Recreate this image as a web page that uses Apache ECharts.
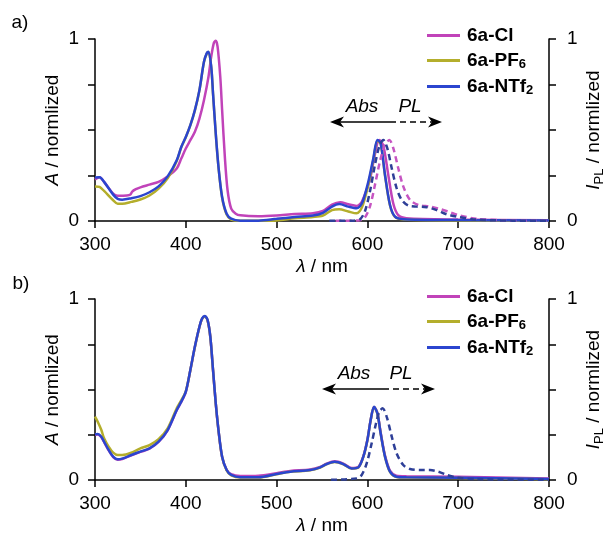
<!DOCTYPE html>
<html>
<head>
<meta charset="utf-8">
<script src="https://cdn.jsdelivr.net/npm/echarts@6/dist/echarts.min.js"></script>
<style>
html, body { margin: 0; background: #fff; }
#chart { width: 605px; height: 535px; }
</style>
</head>
<body>
<div id="chart"></div>
<script>
// ---- panel a) absorption, wavelength in nm / normalized A ----
var aClAbsX = [300, 305, 310, 320, 325, 335, 339, 341, 345, 350, 360, 370, 380, 390, 395, 400, 405, 410, 415, 420, 425, 428, 431, 433, 435, 438, 440, 443, 446, 450, 455, 460, 480, 500, 520, 540, 551, 561, 570, 579, 588, 594, 603, 608, 613, 617.5, 623, 628.5, 634, 643, 700, 800];
var aClAbsY = [0.228, 0.24, 0.215, 0.15, 0.139, 0.14, 0.145, 0.162, 0.175, 0.185, 0.2, 0.215, 0.245, 0.288, 0.343, 0.398, 0.444, 0.49, 0.563, 0.664, 0.793, 0.903, 0.98, 0.99, 0.958, 0.79, 0.609, 0.352, 0.169, 0.068, 0.04, 0.031, 0.026, 0.03, 0.038, 0.042, 0.055, 0.09, 0.103, 0.092, 0.083, 0.107, 0.234, 0.36, 0.445, 0.415, 0.253, 0.096, 0.032, 0.015, 0.008, 0.004];

var aPfAbsX = [300, 305, 310, 320, 325, 330, 340, 350, 360, 370, 380, 390, 395, 400, 405, 410, 415, 420, 423, 425, 428, 430, 433, 436, 440, 445, 450, 460, 480, 500, 520, 540, 551, 561, 569, 579, 588, 594, 601, 606.5, 611, 614.6, 619.4, 624.9, 630.4, 640, 700, 800];
var aPfAbsY = [0.19, 0.187, 0.165, 0.114, 0.095, 0.095, 0.105, 0.118, 0.14, 0.178, 0.235, 0.33, 0.405, 0.46, 0.525, 0.607, 0.717, 0.873, 0.919, 0.928, 0.846, 0.698, 0.478, 0.295, 0.128, 0.035, 0.008, 0.001, 0.001, 0.003, 0.015, 0.022, 0.03, 0.06, 0.065, 0.052, 0.042, 0.075, 0.2, 0.335, 0.44, 0.425, 0.25, 0.085, 0.022, 0.008, 0.003, 0.001];

var aNtAbsX = [300, 305, 310, 320, 325, 330, 340, 350, 360, 370, 380, 390, 395, 400, 405, 410, 415, 420, 423, 425, 428, 430, 433, 436, 440, 445, 450, 460, 480, 500, 520, 540, 551, 561, 569, 579, 588, 594, 601, 606.5, 611, 614.6, 619.4, 624.9, 630.4, 640, 700, 800];
var aNtAbsY = [0.239, 0.24, 0.215, 0.145, 0.122, 0.117, 0.125, 0.137, 0.158, 0.19, 0.245, 0.334, 0.407, 0.462, 0.527, 0.609, 0.719, 0.875, 0.921, 0.93, 0.848, 0.7, 0.48, 0.297, 0.132, 0.04, 0.013, 0.002, 0.002, 0.012, 0.022, 0.03, 0.045, 0.079, 0.093, 0.079, 0.07, 0.097, 0.216, 0.344, 0.445, 0.427, 0.253, 0.088, 0.024, 0.01, 0.005, 0.003];

// ---- panel a) emission, normalized I_PL ----
var aClPlX = [565, 590, 597, 602.9, 608.4, 613.9, 619.4, 624.2, 628.5, 634, 639.5, 646.9, 656.1, 669, 680, 691, 700, 720, 750, 780, 800];
var aClPlY = [0.001, 0.003, 0.018, 0.082, 0.2, 0.329, 0.42, 0.445, 0.4, 0.29, 0.19, 0.116, 0.088, 0.079, 0.066, 0.048, 0.033, 0.012, 0.004, 0.001, 0.001];

var aNtPlX = [558, 585, 592, 597.4, 602.9, 608.4, 613.2, 617.5, 621.9, 626.8, 632.2, 637.8, 645, 654.3, 665.3, 676.3, 687.3, 698.3, 720, 760, 800];
var aNtPlY = [0.001, 0.002, 0.01, 0.055, 0.165, 0.311, 0.412, 0.445, 0.4, 0.29, 0.18, 0.116, 0.085, 0.079, 0.076, 0.06, 0.037, 0.024, 0.008, 0.002, 0.001];

// ---- panel b) absorption ----
var bNtAbsX = [300, 303, 307, 310, 315, 320, 325, 330, 340, 350, 360, 370, 380, 390, 395, 400, 405, 410, 415, 418, 421, 424, 427, 430, 433, 436, 440, 445, 450, 460, 480, 500, 515, 537, 548, 555, 564, 573.5, 582.7, 590, 595.5, 600, 603.6, 607.3, 611, 614.6, 619.4, 624.9, 632, 643, 700, 800];
var bNtAbsY = [0.252, 0.254, 0.239, 0.212, 0.166, 0.129, 0.114, 0.118, 0.138, 0.157, 0.175, 0.212, 0.276, 0.387, 0.433, 0.488, 0.608, 0.737, 0.847, 0.893, 0.906, 0.884, 0.792, 0.608, 0.424, 0.276, 0.129, 0.055, 0.028, 0.015, 0.015, 0.033, 0.046, 0.055, 0.07, 0.088, 0.101, 0.088, 0.064, 0.07, 0.129, 0.221, 0.331, 0.405, 0.368, 0.258, 0.129, 0.046, 0.018, 0.015, 0.012, 0.005];

var bPfAbsX = [300, 303, 307, 310, 315, 320, 325, 330, 340, 350, 360, 370, 380, 390, 395, 400, 405, 410, 415, 418, 421, 424, 427, 430, 433, 436, 440, 445, 450, 460, 480, 500, 515, 537, 548, 555, 564, 573.5, 582.7, 590, 595.5, 600, 603.6, 607.3, 611, 614.6, 619.4, 624.9, 632, 643, 700, 800];
var bPfAbsY = [0.35, 0.322, 0.276, 0.23, 0.184, 0.151, 0.138, 0.138, 0.151, 0.175, 0.193, 0.225, 0.285, 0.396, 0.44, 0.49, 0.607, 0.735, 0.845, 0.891, 0.904, 0.882, 0.79, 0.606, 0.422, 0.274, 0.127, 0.053, 0.026, 0.014, 0.014, 0.032, 0.045, 0.054, 0.069, 0.087, 0.1, 0.087, 0.063, 0.069, 0.128, 0.22, 0.33, 0.404, 0.367, 0.257, 0.128, 0.045, 0.017, 0.014, 0.011, 0.004];

var bClAbsX = [300, 303, 307, 310, 315, 320, 325, 330, 340, 350, 360, 370, 380, 390, 395, 400, 405, 410, 415, 418, 421, 424, 427, 430, 433, 436, 440, 445, 450, 460, 480, 500, 515, 537, 548, 555, 564, 573.5, 582.7, 590, 595.5, 600, 603.6, 607.3, 611, 614.6, 619.4, 624.9, 632, 643, 700, 800];
var bClAbsY = [0.25, 0.252, 0.237, 0.21, 0.164, 0.127, 0.112, 0.116, 0.136, 0.155, 0.173, 0.21, 0.274, 0.385, 0.431, 0.486, 0.606, 0.735, 0.845, 0.891, 0.904, 0.882, 0.79, 0.606, 0.422, 0.274, 0.127, 0.056, 0.032, 0.022, 0.024, 0.038, 0.05, 0.058, 0.072, 0.09, 0.103, 0.09, 0.066, 0.072, 0.13, 0.222, 0.332, 0.404, 0.37, 0.262, 0.135, 0.052, 0.024, 0.021, 0.018, 0.008];

// ---- panel b) emission ----
var bNtPlX = [560, 588, 593.7, 599.2, 604.7, 609.5, 613.2, 616.8, 621.2, 626.8, 632.2, 639.5, 646.9, 657.9, 668.9, 678, 687.3, 698.3, 720, 800];
var bNtPlY = [0.001, 0.009, 0.028, 0.092, 0.203, 0.313, 0.378, 0.396, 0.35, 0.24, 0.147, 0.083, 0.061, 0.055, 0.055, 0.046, 0.028, 0.013, 0.005, 0.001];

var legendNames = ['6a-Cl', '6a-PF6', '6a-NTf2'];
var wlTicks = [300, 800, 100];

var FONT = 'Liberation Sans, Arial, sans-serif';
var C_CL = '#c143b9';
var C_PF = '#b4ae2c';
var C_NT = '#2b45cf';
var C_NT_PL = '#2e3f98';
var C_CL_PL = '#c655c2';

function pts(xs, ys) {
	return xs.map(function (x, i) { return [x, ys[i]]; });
}

function curve(name, xs, ys, color, xi, yi, dashed) {
	return {
		name: name,
		type: 'line',
		xAxisIndex: xi,
		yAxisIndex: yi,
		data: pts(xs, ys),
		showSymbol: false,
		symbol: 'none',
		smooth: 0.3,
		itemStyle: { color: color },
		lineStyle: { color: color, width: 2.5, type: dashed ? [6, 4] : 'solid' },
		silent: true,
		z: dashed ? 3 : 2
	};
}

var axisLine = { show: true, lineStyle: { color: '#000', width: 1.5 } };
var axisTick = { show: true, inside: false, length: 7, lineStyle: { color: '#000', width: 1.5 } };
var labelStyle = { color: '#000', fontSize: 19, fontFamily: FONT };

function xAx(gi) {
	return {
		type: 'value', gridIndex: gi,
		min: wlTicks[0], max: wlTicks[1], interval: wlTicks[2],
		axisLine: axisLine, axisTick: axisTick,
		axisLabel: Object.assign({ margin: 14 }, labelStyle),
		splitLine: { show: false },
		name: '{i|λ} / nm', nameLocation: 'middle', nameGap: 36, nameMoveOverlap: false,
		nameTextStyle: {
			color: '#000', fontSize: 19, fontFamily: FONT,
			rich: { i: { fontStyle: 'italic', fontSize: 19, fontFamily: FONT, color: '#000' } }
		}
	};
}

function yAx(gi, right) {
	return {
		type: 'value', gridIndex: gi, position: right ? 'right' : 'left',
		min: 0, max: 1, interval: 0.25,
		axisLine: axisLine, axisTick: axisTick,
		axisLabel: Object.assign({
			margin: right ? 18 : 16,
			formatter: function (v) { return (v === 0 || v === 1) ? String(v) : ''; }
		}, labelStyle),
		splitLine: { show: false },
		name: right ? '{i|I}{s|PL} / normlized' : '{i|A} / normlized',
		nameLocation: 'middle', nameRotate: 90, nameGap: right ? 33 : 30, nameMoveOverlap: false,
		nameTextStyle: {
			color: '#000', fontSize: 19, fontFamily: FONT,
			rich: {
				i: { fontStyle: 'italic', fontSize: 19, fontFamily: FONT, color: '#000', lineHeight: 24 },
				s: { fontSize: 13, fontFamily: FONT, color: '#000', verticalAlign: 'bottom', lineHeight: 13 }
			}
		}
	};
}

function legendAt(top) {
	return {
		orient: 'vertical', left: 427, top: top, padding: 0,
		itemWidth: 33, itemHeight: 3, itemGap: 6, icon: 'rect',
		selectedMode: false,
		data: legendNames,
		formatter: function (n) {
			if (n === '6a-PF6') return '{b|6a-PF}{s|6}';
			if (n === '6a-NTf2') return '{b|6a-NTf}{s|2}';
			return '{b|' + n + '}';
		},
		textStyle: {
			padding: [0, 0, 0, 2],
			rich: {
				b: { fontSize: 19, fontWeight: 'bold', fontFamily: FONT, color: '#000', lineHeight: 21 },
				s: { fontSize: 13, fontWeight: 'bold', fontFamily: FONT, color: '#000', verticalAlign: 'bottom', lineHeight: 12 }
			}
		}
	};
}

function arrowSet(xMid, xL, xR, y, tx) {
	var ital = { fontSize: 19, fontStyle: 'italic', fontFamily: FONT, fill: '#000' };
	return [
		{ type: 'line', shape: { x1: xMid, y1: y, x2: xL + 8, y2: y }, style: { stroke: '#000', lineWidth: 1.5 } },
		{ type: 'polygon', shape: { points: [[xL, y], [xL + 14, y - 5.5], [xL + 10, y], [xL + 14, y + 5.5]] }, style: { fill: '#000' } },
		{ type: 'line', shape: { x1: xMid, y1: y, x2: xR - 8, y2: y }, style: { stroke: '#000', lineWidth: 1.5, lineDash: [6, 4] } },
		{ type: 'polygon', shape: { points: [[xR, y], [xR - 14, y - 5.5], [xR - 10, y], [xR - 14, y + 5.5]] }, style: { fill: '#000' } },
		{ type: 'text', x: tx[0], y: y - 15, style: Object.assign({ text: 'Abs', align: 'center', verticalAlign: 'middle' }, ital) },
		{ type: 'text', x: tx[1], y: y - 15, style: Object.assign({ text: 'PL', align: 'center', verticalAlign: 'middle' }, ital) }
	];
}

var chart = echarts.init(document.getElementById('chart'), null, { renderer: 'canvas' });

chart.setOption({
	animation: false,
	backgroundColor: '#fff',
	grid: [
		{ left: 95, width: 454, top: 39, height: 182, outerBoundsMode: 'none', containLabel: false },
		{ left: 95, width: 454, top: 299, height: 181, outerBoundsMode: 'none', containLabel: false }
	],
	xAxis: [xAx(0), xAx(1)],
	yAxis: [yAx(0, false), yAx(0, true), yAx(1, false), yAx(1, true)],
	legend: [legendAt(26), legendAt(287)],
	series: [
		curve('6a-Cl', aClAbsX, aClAbsY, C_CL, 0, 0, false),
		curve('6a-PF6', aPfAbsX, aPfAbsY, C_PF, 0, 0, false),
		curve('6a-NTf2', aNtAbsX, aNtAbsY, C_NT, 0, 0, false),
		curve('6a-Cl PL', aClPlX, aClPlY, C_CL_PL, 0, 1, true),
		curve('6a-NTf2 PL', aNtPlX, aNtPlY, C_NT_PL, 0, 1, true),
		curve('6a-Cl', bClAbsX, bClAbsY, C_CL, 1, 2, false),
		curve('6a-PF6', bPfAbsX, bPfAbsY, C_PF, 1, 2, false),
		curve('6a-NTf2', bNtAbsX, bNtAbsY, C_NT, 1, 2, false),
		curve('6a-NTf2 PL', bNtPlX, bNtPlY, C_NT_PL, 1, 3, true)
	],
	graphic: [
		{ type: 'text', x: 20, y: 23, style: { text: 'a)', fontSize: 19, fontFamily: FONT, fill: '#000', align: 'center', verticalAlign: 'middle' } },
		{ type: 'text', x: 21, y: 284, style: { text: 'b)', fontSize: 19, fontFamily: FONT, fill: '#000', align: 'center', verticalAlign: 'middle' } }
	].concat(arrowSet(390, 330, 442, 122, [362, 410])).concat(arrowSet(383, 322, 435, 389, [354, 401]))
});
</script>
</body>
</html>
